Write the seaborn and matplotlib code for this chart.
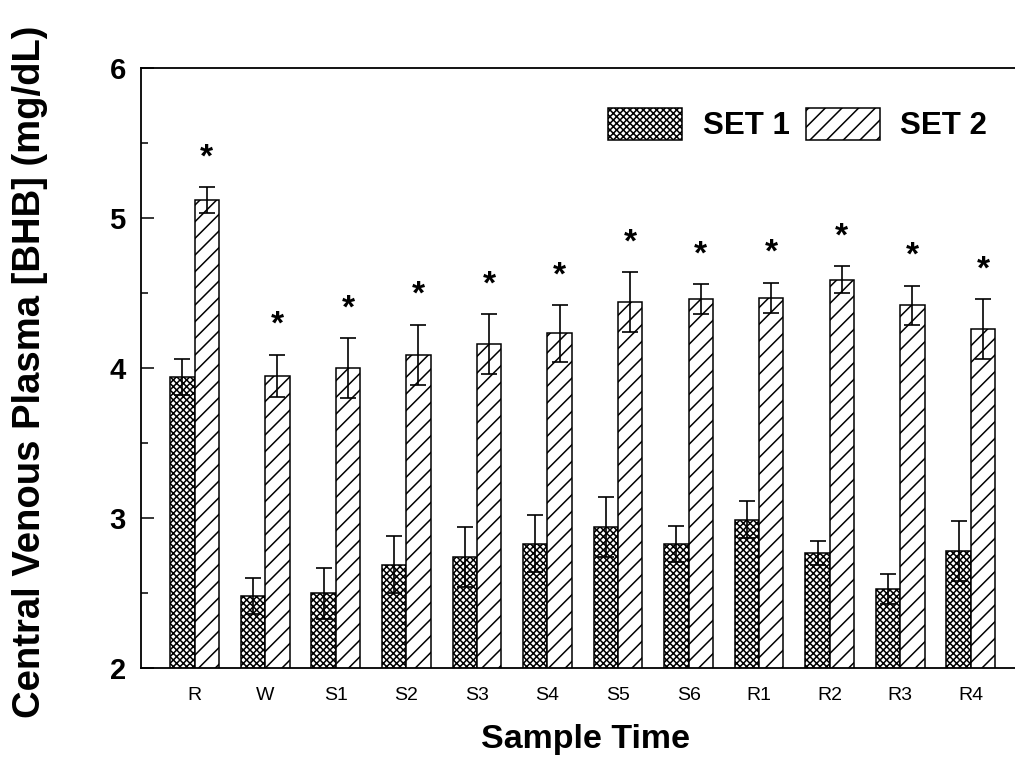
import numpy as np
import pandas as pd
import matplotlib
matplotlib.use("Agg")
import matplotlib.pyplot as plt
import matplotlib.patches as mpatches
from matplotlib.ticker import MultipleLocator
import seaborn as sns

categories = ['R', 'W', 'S1', 'S2', 'S3', 'S4', 'S5', 'S6', 'R1', 'R2', 'R3', 'R4']
set1 = [3.94, 2.48, 2.50, 2.69, 2.74, 2.83, 2.94, 2.83, 2.99, 2.77, 2.53, 2.78]
set1_err = [0.12, 0.12, 0.17, 0.19, 0.20, 0.19, 0.20, 0.12, 0.12, 0.08, 0.10, 0.20]
set2 = [5.12, 3.95, 4.00, 4.09, 4.16, 4.23, 4.44, 4.46, 4.47, 4.59, 4.42, 4.26]
set2_err = [0.085, 0.14, 0.20, 0.20, 0.20, 0.19, 0.20, 0.10, 0.10, 0.09, 0.13, 0.20]
series_names = ['SET 1', 'SET 2']
significant = [True] * 12

sns.set_theme(style="white")
plt.rcParams['font.family'] = ['Liberation Sans', 'DejaVu Sans']
plt.rcParams['hatch.linewidth'] = 1.1
plt.rcParams['hatch.color'] = 'black'
plt.rcParams['text.color'] = 'black'
plt.rcParams['axes.labelcolor'] = 'black'
plt.rcParams['xtick.color'] = 'black'
plt.rcParams['ytick.color'] = 'black'

df = pd.DataFrame({
    'time': categories * 2,
    'value': set1 + set2,
    'set': [series_names[0]] * len(categories) + [series_names[1]] * len(categories),
})

fig = plt.figure(figsize=(10.15, 7.76), dpi=100)
ax = fig.add_axes([141 / 1015, 1 - 668 / 776, 1 - 141 / 1015 + 0.01, (668 - 68) / 776])

sns.barplot(data=df, x='time', y='value', hue='set', order=categories,
            hue_order=series_names, palette=['white', 'white'], width=0.69,
            edgecolor='black', linewidth=1.1, errorbar=None, legend=False, ax=ax,
            saturation=1)

hatches = ['xxxxx', '//']
errs = [set1_err, set2_err]
vals = [set1, set2]
bar_containers = list(ax.containers)
for k, cont in enumerate(bar_containers):
    xs = []
    for bar in cont:
        bar.set_hatch(hatches[k])
        bar.set_facecolor('white')
        bar.set_edgecolor('black')
        xs.append(bar.get_x() + bar.get_width() / 2)
    ax.errorbar(xs, vals[k], yerr=errs[k], fmt='none', ecolor='black',
                elinewidth=1.2, capsize=6, capthick=1.2, zorder=5)
    if k == 1:
        for x, v, e, s in zip(xs, vals[k], errs[k], significant):
            if s:
                ax.annotate('*', xy=(x, v + e), xytext=(0, 21), textcoords='offset points',
                            ha='center', va='center', fontsize=24, fontweight='bold',
                            family='Liberation Sans')

ax.set_ylim(2, 6)
ax.set_xlim(-0.76, 11.77)
ax.yaxis.set_major_locator(MultipleLocator(1))
ax.yaxis.set_minor_locator(MultipleLocator(0.5))
ax.tick_params(axis='y', which='major', direction='in', length=9, width=1.1,
               left=True, right=False, labelsize=21, pad=11)
ax.tick_params(axis='y', which='minor', direction='in', length=5, width=1.1, left=True)
ax.tick_params(axis='x', which='both', length=0, labelsize=14, pad=14)
for lab in ax.get_yticklabels():
    lab.set_fontweight('bold')

for side in ['left', 'bottom', 'top']:
    ax.spines[side].set_visible(True)
    ax.spines[side].set_color('black')
    ax.spines[side].set_linewidth(1.3)
ax.spines['right'].set_visible(False)

ax.set_xlabel('Sample Time', fontsize=24.5, fontweight='bold')
ax.set_ylabel('Central Venous Plasma [BHB] (mg/dL)', fontsize=27.5, fontweight='bold')
ax.xaxis.set_label_coords((580 - 141) / 874, (668 - 724) / 600)
ax.yaxis.set_label_coords((49 - 141) / 874, (668 - 372) / 600)

handles = [mpatches.Patch(facecolor='white', edgecolor='black', hatch=h, linewidth=1.1)
           for h in hatches]
fig.legend(handles, series_names, loc='upper left',
           bbox_to_anchor=(608 / 1015, 1 - 108 / 776), ncol=2, frameon=False,
           prop={'weight': 'bold', 'size': 22.5},
           handlelength=2.37, handleheight=1.18,
           handletextpad=0.67, columnspacing=0.5, borderpad=0, borderaxespad=0)

fig.savefig('out.png', dpi=100, facecolor='white')
